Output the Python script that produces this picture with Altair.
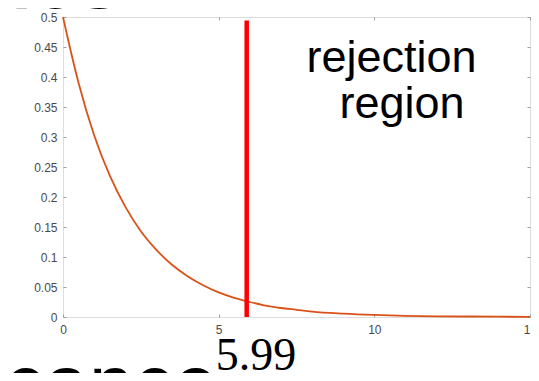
import altair as alt
import pandas as pd

# Curve values (density vs x)
curve_x = [0, 0.5, 1, 1.5, 2, 2.5, 3, 3.5, 4, 4.5, 5, 5.5, 6, 6.5, 7, 7.5, 8,
           9, 10, 11, 12, 13, 14, 15]
curve_y = [0.5, 0.39, 0.303, 0.236, 0.184, 0.143, 0.112, 0.087, 0.068, 0.053,
           0.041, 0.032, 0.025, 0.019, 0.015, 0.012, 0.009, 0.0056, 0.0034,
           0.002, 0.0012, 0.0008, 0.0005, 0.0003]

# Critical value line
crit_x = [5.9]
crit_y0 = [0.0]
crit_y1 = [0.494]

# Tick values / labels
x_ticks = [0, 5, 10, 15]
y_ticks = [0, 0.05, 0.1, 0.15, 0.2, 0.25, 0.3, 0.35, 0.4, 0.45, 0.5]

# Annotations
ann_text = ["rejection", "region"]
ann_x = [10.55, 10.89]
ann_y = [0.408, 0.332]

crit_label = ["5.99"]
crit_label_x = [4.91]
crit_label_y = [-0.088]

slide_bottom_text = ["significance"]
slide_bottom_x = [4.98]
slide_bottom_y = [-0.156]

slide_top_text = ["values"]
slide_top_x = [1.87]
slide_top_y = [0.5155]

curve_df = pd.DataFrame({"x": curve_x, "y": curve_y})
crit_df = pd.DataFrame({"x": crit_x, "y0": crit_y0, "y1": crit_y1})
ann_df = pd.DataFrame({"t": ann_text, "x": ann_x, "y": ann_y})
lab_df = pd.DataFrame({"t": crit_label, "x": crit_label_x, "y": crit_label_y})
bot_df = pd.DataFrame({"t": slide_bottom_text, "x": slide_bottom_x, "y": slide_bottom_y})
top_df = pd.DataFrame({"t": slide_top_text, "x": slide_top_x, "y": slide_top_y})

xs = alt.Scale(domain=[0, 15], nice=False, zero=False)
ys = alt.Scale(domain=[0, 0.5], nice=False, zero=False)

GREY = "#a0a0a0"
LBL = "#4a4a4a"
FONT = "Liberation Sans"

x_axis = alt.Axis(orient="bottom", values=x_ticks, format="~g", title=None,
                  grid=False, domain=False, ticks=True, tickSize=3, offset=-3,
                  tickColor=GREY, labelPadding=7, labelFont=FONT,
                  labelFontSize=12, labelColor=LBL, labelFlush=False)
y_axis = alt.Axis(orient="left", values=y_ticks, format="~g", title=None,
                  grid=False, domain=False, ticks=True, tickSize=3, offset=-3,
                  tickColor=GREY, labelPadding=6, labelFont=FONT,
                  labelFontSize=12, labelColor=LBL, labelFlush=False)
x_axis2 = alt.Axis(orient="top", values=x_ticks, title=None, grid=False,
                   domain=False, labels=False, ticks=True, tickSize=3,
                   offset=-3, tickColor=GREY)
y_axis2 = alt.Axis(orient="right", values=y_ticks, title=None, grid=False,
                   domain=False, labels=False, ticks=True, tickSize=3,
                   offset=-3, tickColor=GREY)

curve = alt.Chart(curve_df).mark_line(
    color="#D95319", strokeWidth=1.8, interpolate="monotone"
).encode(
    x=alt.X("x:Q", scale=xs, axis=x_axis),
    y=alt.Y("y:Q", scale=ys, axis=y_axis),
)

crit = alt.Chart(crit_df).mark_rule(color="#ff0000", strokeWidth=4.5).encode(
    x=alt.X("x:Q", scale=xs, axis=x_axis2),
    y=alt.Y("y0:Q", scale=ys, axis=y_axis2),
    y2="y1:Q",
)

ann = alt.Chart(ann_df).mark_text(
    font=FONT, fontSize=45, color="black", align="center", baseline="alphabetic"
).encode(x=alt.X("x:Q", scale=xs, axis=None), y=alt.Y("y:Q", scale=ys, axis=None), text="t:N")

lab = alt.Chart(lab_df).mark_text(
    font="Liberation Serif", fontSize=46, color="black", align="left",
    baseline="alphabetic"
).encode(x=alt.X("x:Q", scale=xs, axis=None), y=alt.Y("y:Q", scale=ys, axis=None), text="t:N")

bot = alt.Chart(bot_df).mark_text(
    font=FONT, fontSize=80, color="black", align="right", baseline="alphabetic"
).encode(x=alt.X("x:Q", scale=xs, axis=None), y=alt.Y("y:Q", scale=ys, axis=None), text="t:N")

top = alt.Chart(top_df).mark_text(
    font=FONT, fontSize=80, fontWeight="bold", color="black", align="right",
    baseline="alphabetic"
).encode(x=alt.X("x:Q", scale=xs, axis=None), y=alt.Y("y:Q", scale=ys, axis=None), text="t:N")

chart = alt.layer(curve, crit, ann, lab, bot, top).resolve_axis(
    x="independent", y="independent"
).properties(
    width=467, height=300,
    autosize=alt.AutoSizeParams(type="none"),
    padding={"left": 55, "top": 9, "right": 1, "bottom": 56},
).configure_view(
    stroke=GREY, strokeWidth=1
).configure(background="white")

chart.save("out.html", embed_options={"renderer": "svg", "actions": False})
